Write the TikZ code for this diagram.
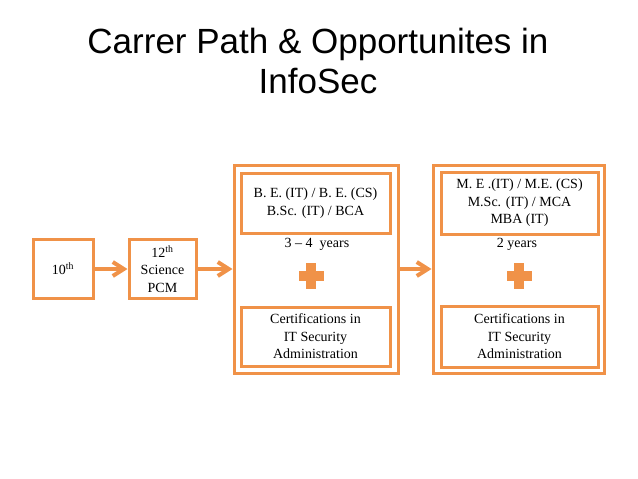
\documentclass[tikz,border=0pt]{standalone}
\usepackage{fontspec}
\setmainfont{Liberation Serif}
\newfontfamily\titlefont{Liberation Sans}
\usetikzlibrary{arrows.meta}

\newlength{\du}
\setlength{\du}{1pt}

\definecolor{dialinecolor}{rgb}{0.000000, 0.000000, 0.000000}
\definecolor{boxcolor}{rgb}{0.941176, 0.572549, 0.282353}

\tikzset{
  stepbox/.style={draw=boxcolor, line width=3\du, fill=white, inner sep=0pt,
    align=center, font=\fontsize{14}{17.5}\selectfont},
  outerbox/.style={draw=boxcolor, line width=3\du, inner sep=0pt},
  yearlabel/.style={font=\fontsize{14}{17.5}\selectfont, inner sep=0pt},
  plusbar/.style={fill=boxcolor, inner sep=0pt},
  flowarrow/.style={draw=boxcolor, line width=4\du,
    -{Straight Barb[length=11pt,width=14pt,line width=4pt]}},
}

\begin{document}
\begin{tikzpicture}
\pgftransformxscale{1.000000}
\pgftransformyscale{-1.000000}
\useasboundingbox (0\du,0\du) rectangle (638\du,479\du);
% title
\node[align=center, inner sep=0pt, anchor=base, text=dialinecolor,
  font=\titlefont\fontsize{35}{40}\selectfont] (title) at (318\du,93\du)
  {Carrer Path \& Opportunites in\\InfoSec};
% school
\node[stepbox, minimum width=60\du, minimum height=59\du] (tenth) at (63\du,269\du) {10\textsuperscript{th}};
\node[stepbox, minimum width=67\du, minimum height=59\du] (twelfth) at (162.5\du,269\du) {12\textsuperscript{th}\\Science\\PCM};
% graduation
\node[outerbox, minimum width=164\du, minimum height=208\du] (bach) at (316\du,269\du) {};
\node[stepbox, minimum width=149\du, minimum height=60\du] (bachdeg) at (315.5\du,203\du) {B. E. (IT) / B. E. (CS)\\B.Sc. (IT) / BCA};
\node[yearlabel] (bachyrs) at (317\du,244\du) {3 -- 4\ \ years};
\node[plusbar, minimum width=25\du, minimum height=10\du] (bachplus) at (311\du,276\du) {};
\node[plusbar, minimum width=10\du, minimum height=26\du] at (bachplus) {};
\node[stepbox, minimum width=149\du, minimum height=59\du] (bachcert) at (315.5\du,336.5\du) {Certifications in\\IT Security\\Administration};
% post graduation
\node[outerbox, minimum width=171\du, minimum height=208\du] (mast) at (518.5\du,269\du) {};
\node[stepbox, minimum width=157\du, minimum height=62\du] (mastdeg) at (519.5\du,203\du) {M. E .(IT) / M.E. (CS)\\M.Sc. (IT) / MCA\\MBA (IT)};
\node[yearlabel] (mastyrs) at (517\du,244\du) {2 years};
\node[plusbar, minimum width=25\du, minimum height=10\du] (mastplus) at (519\du,276\du) {};
\node[plusbar, minimum width=10\du, minimum height=26\du] at (mastplus) {};
\node[stepbox, minimum width=157\du, minimum height=61\du] (mastcert) at (519.5\du,336.5\du) {Certifications in\\IT Security\\Administration};
% arrows
\draw[flowarrow] (tenth) -- (twelfth);
\draw[flowarrow] (twelfth) -- (bach);
\draw[flowarrow] (bach) -- (mast);
\end{tikzpicture}
\end{document}
